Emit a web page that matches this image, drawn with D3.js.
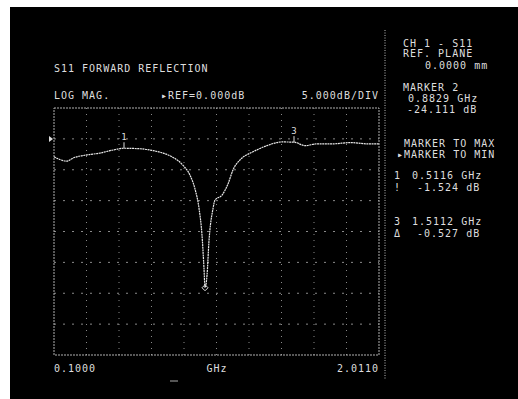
<!DOCTYPE html>
<html><head><meta charset="utf-8">
<script src="https://cdn.jsdelivr.net/npm/d3@7"></script>
<style>html,body{margin:0;padding:0;background:#fff;}svg{display:block;}</style>
</head><body>
<script>
// ---- data ----
const freqGHz = [0.100,0.176,0.212,0.294,0.370,0.447,0.5116,0.606,0.682,0.741,0.800,0.859,0.900,0.929,0.953,0.970,0.982,0.988,1.000,1.011,1.035,1.047,1.088,1.123,1.153,1.194,1.270,1.352,1.441,1.5112,1.576,1.646,1.741,1.841,1.941,2.011];
const s11dB   = [-2.9,-3.6,-3.1,-2.6,-2.3,-1.8,-1.52,-1.6,-1.9,-2.3,-3.0,-4.3,-5.9,-8.1,-11.3,-15.5,-21.0,-24.1,-22.0,-16.7,-11.3,-9.9,-9.1,-7.3,-5.0,-3.4,-2.1,-1.1,-0.5,-0.53,-1.1,-0.8,-0.8,-0.6,-0.8,-0.8];
const markerIds = ["1","3"];
const markerFreq = [0.5116, 1.5112];
const markerDB = [-1.524, -0.527];
const activeMarkerFreq = 0.988;
const activeMarkerDB = -24.111;
const xDomain = [0.1000, 2.0110];
const yDomain = [5, -35];
const xTickLabels = ["0.1000", "GHz", "2.0110"];
const headerTexts = ["S11 FORWARD REFLECTION", "LOG MAG.", "\u25B8REF=0.000dB", "5.000dB/DIV"];
const sideTexts = [
  ["CH 1 - S11", 403, 47], ["REF. PLANE", 403, 57], ["0.0000 mm", 425, 69],
  ["MARKER 2", 403, 91], ["0.8829 GHz", 408, 102], ["-24.111 dB", 407, 113],
  ["MARKER TO MAX", 404, 147], ["\u25B8MARKER TO MIN", 397, 158],
  ["1", 394, 179], ["0.5116 GHz", 412, 179], ["!", 394, 191], ["-1.524 dB", 417, 191],
  ["3", 394, 225], ["1.5112 GHz", 412, 225], ["\u0394", 394, 237], ["-0.527 dB", 417, 237]
];

const W = 518, H = 399;
const svg = d3.select("body").append("svg").attr("width", W).attr("height", H);
svg.append("rect").attr("x", 10).attr("y", 7).attr("width", W - 10).attr("height", H - 7).attr("fill", "#000");

const x = d3.scaleLinear().domain(xDomain).range([54, 379]);
const y = d3.scaleLinear().domain(yDomain).range([108, 355]);
const txt = "#dedede";
const font = "'DejaVu Sans Mono', 'Liberation Mono', monospace";

// grid
const g = svg.append("g");
const xt = d3.range(11).map(i => xDomain[0] + i * (xDomain[1] - xDomain[0]) / 10);
const yt = d3.range(9).map(i => yDomain[0] + i * (yDomain[1] - yDomain[0]) / 8);
g.selectAll(".vg").data(xt.slice(1, 10)).enter().append("line")
  .attr("x1", d => x(d)).attr("x2", d => x(d)).attr("y1", 108).attr("y2", 355)
  .attr("stroke", "#8a8a8a").attr("stroke-width", 1).attr("stroke-dasharray", "1,5");
g.selectAll(".hg").data(yt.slice(1, 8)).enter().append("line")
  .attr("x1", 54).attr("x2", 379).attr("y1", d => y(d)).attr("y2", d => y(d))
  .attr("stroke", "#8a8a8a").attr("stroke-width", 1).attr("stroke-dasharray", "2,7");
// border
g.append("rect").attr("x", 54).attr("y", 108).attr("width", 325).attr("height", 247)
  .attr("fill", "none").attr("stroke", "#b0b0b0").attr("stroke-width", 1).attr("stroke-dasharray", "2,1");

// separator
svg.append("line").attr("x1", 385).attr("x2", 385).attr("y1", 30).attr("y2", 380)
  .attr("stroke", "#bbb").attr("stroke-width", 1).attr("stroke-dasharray", "1,1.5");

// reference pointer
svg.append("path").attr("d", `M49,${y(0)-3} L53,${y(0)} L49,${y(0)+3} Z`).attr("fill", txt);

// trace
const line = d3.line().x((d, i) => x(freqGHz[i])).y(d => y(d)).curve(d3.curveMonotoneX);
svg.append("path").datum(s11dB).attr("d", line).attr("fill", "none")
  .attr("stroke", "#e8e8e8").attr("stroke-width", 1.2).attr("stroke-dasharray", "2,0.6");

// markers
markerIds.forEach((id, i) => {
  const mx = x(markerFreq[i]), my = y(markerDB[i]);
  svg.append("line").attr("x1", mx).attr("x2", mx).attr("y1", my - 6).attr("y2", my)
    .attr("stroke", txt).attr("stroke-width", 1);
  svg.append("text").attr("x", mx).attr("y", my - 8).attr("text-anchor", "middle")
    .attr("font-family", font).attr("font-size", 9).attr("fill", txt).text(id);
});
const amx = x(activeMarkerFreq), amy = y(activeMarkerDB);
svg.append("path").attr("d", `M${amx},${amy-3} L${amx+3},${amy} L${amx},${amy+3} L${amx-3},${amy} Z`)
  .attr("fill", "none").attr("stroke", txt).attr("stroke-width", 1);

// texts
const T = (s, px, py, anchor) => svg.append("text").attr("x", px).attr("y", py)
  .attr("text-anchor", anchor || "start").attr("font-family", font).attr("font-size", 10)
  .attr("letter-spacing", 1).attr("fill", txt).text(s);
T(headerTexts[0], 54, 72);
T(headerTexts[1], 54, 99);
T(headerTexts[2], 161, 99);
T(headerTexts[3], 379, 99, "end");
T(xTickLabels[0], 54, 372);
T(xTickLabels[1], 217, 372, "middle");
T(xTickLabels[2], 379, 372, "end");
svg.append("line").attr("x1", 170).attr("x2", 178).attr("y1", 381).attr("y2", 381).attr("stroke", "#aaa");
sideTexts.forEach(d => T(d[0], d[1], d[2]));
</script>
</body></html>
